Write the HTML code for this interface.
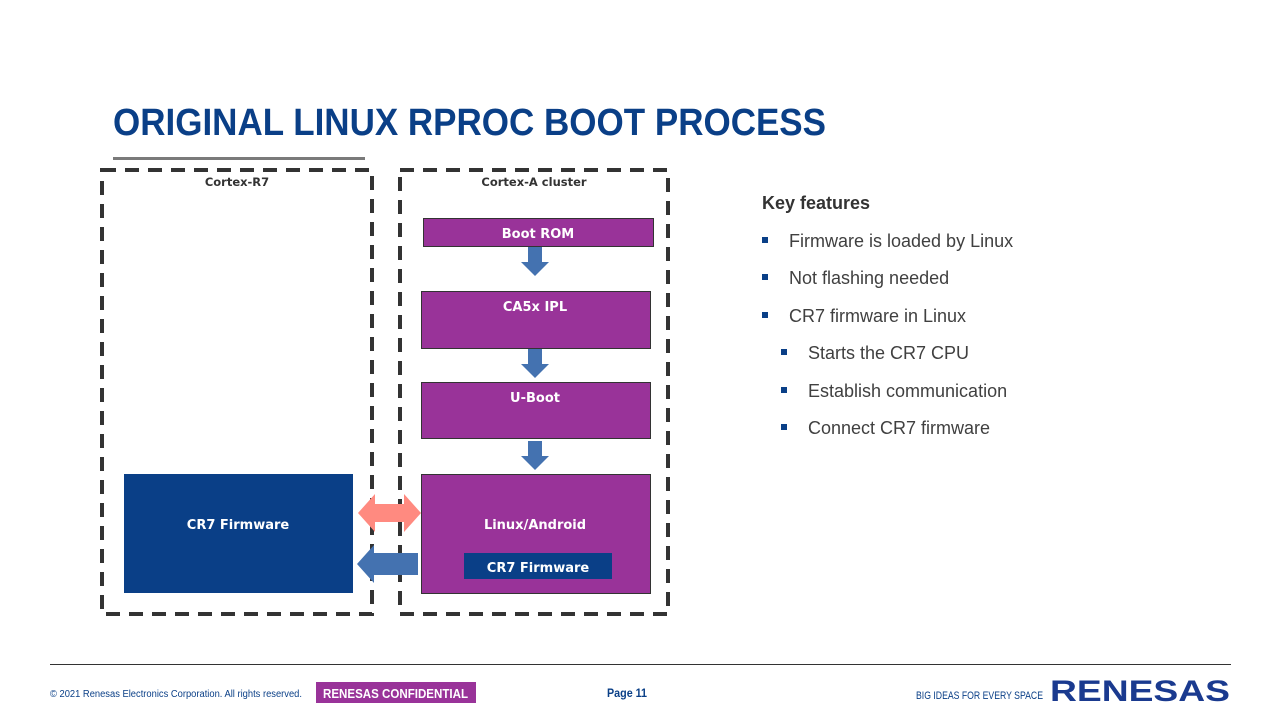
<!DOCTYPE html>
<html><head><meta charset="utf-8"><style>
html,body{margin:0;padding:0;background:#fff;}
svg{display:block;}
text{font-family:"Liberation Sans",sans-serif;}
.dv{font-family:"DejaVu Sans",sans-serif;font-weight:bold;fill:#fff;}
</style></head><body>
<svg width="1280" height="720" viewBox="0 0 1280 720" xmlns="http://www.w3.org/2000/svg">
<rect width="1280" height="720" fill="#fff"/>
<text x="113" y="135" font-size="38" font-weight="bold" fill="#0a3f87" textLength="713" lengthAdjust="spacingAndGlyphs">ORIGINAL LINUX RPROC BOOT PROCESS</text>
<rect x="113" y="157" width="252" height="3" fill="#7a7a7a"/>

<rect x="102" y="170" width="270" height="444" fill="none" stroke="#333" stroke-width="4" stroke-dasharray="14 9"/>
<rect x="400" y="170" width="268" height="444" fill="none" stroke="#333" stroke-width="4" stroke-dasharray="14 9"/>
<text x="237" y="186" font-size="11.5" class="dv" style="fill:#333" text-anchor="middle">Cortex-R7</text>
<text x="534" y="186" font-size="11.5" class="dv" style="fill:#333" text-anchor="middle">Cortex-A cluster</text>

<rect x="423.5" y="218.5" width="230" height="28" fill="#993399" stroke="#333" stroke-width="1"/>
<text x="538" y="238" font-size="13" class="dv" text-anchor="middle">Boot ROM</text>
<rect x="421.5" y="291.5" width="229" height="57" fill="#993399" stroke="#333" stroke-width="1"/>
<text x="535" y="311" font-size="13" class="dv" text-anchor="middle">CA5x IPL</text>
<rect x="421.5" y="382.5" width="229" height="56" fill="#993399" stroke="#333" stroke-width="1"/>
<text x="535" y="402" font-size="13" class="dv" text-anchor="middle">U-Boot</text>
<rect x="421.5" y="474.5" width="229" height="119" fill="#993399" stroke="#333" stroke-width="1"/>
<text x="535" y="529" font-size="13" class="dv" text-anchor="middle">Linux/Android</text>
<rect x="464" y="553" width="148" height="26" fill="#0a3f87"/>
<text x="538" y="572" font-size="13" class="dv" text-anchor="middle">CR7 Firmware</text>

<rect x="124" y="474" width="229" height="119" fill="#0a3f87"/>
<text x="238" y="529" font-size="13" class="dv" text-anchor="middle">CR7 Firmware</text>

<g fill="#4472b0">
<polygon points="528,247 542,247 542,262 549,262 535,276 521,262 528,262"/>
<polygon points="528,349 542,349 542,364 549,364 535,378 521,364 528,364"/>
<polygon points="528,441 542,441 542,456 549,456 535,470 521,456 528,456"/>
<polygon points="418,553 374,553 374,545 357,564 374,583 374,575 418,575"/>
</g>
<polygon fill="#ff8a80" points="358,513 375,494 375,504 404,504 404,494 421,513 404,532 404,522 375,522 375,532"/>

<text x="762" y="209" font-size="18" font-weight="bold" fill="#333">Key features</text>
<g fill="#0a3f87">
<rect x="762" y="237" width="6" height="6"/>
<rect x="762" y="274" width="6" height="6"/>
<rect x="762" y="312" width="6" height="6"/>
<rect x="781" y="349" width="6" height="6"/>
<rect x="781" y="387" width="6" height="6"/>
<rect x="781" y="424" width="6" height="6"/>
</g>
<g font-size="18" fill="#404040">
<text x="789" y="247">Firmware is loaded by Linux</text>
<text x="789" y="284">Not flashing needed</text>
<text x="789" y="322">CR7 firmware in Linux</text>
<text x="808" y="359">Starts the CR7 CPU</text>
<text x="808" y="397">Establish communication</text>
<text x="808" y="434">Connect CR7 firmware</text>
</g>

<rect x="50" y="664" width="1181" height="1" fill="#333"/>
<text x="50" y="697" font-size="10" fill="#0a3f87" textLength="252" lengthAdjust="spacingAndGlyphs">© 2021 Renesas Electronics Corporation. All rights reserved.</text>
<rect x="316" y="682" width="160" height="21" fill="#993399"/>
<text x="323" y="698" font-size="13" font-weight="bold" fill="#fff" textLength="145" lengthAdjust="spacingAndGlyphs">RENESAS CONFIDENTIAL</text>
<text x="607" y="697" font-size="12" font-weight="bold" fill="#0a3f87" textLength="40" lengthAdjust="spacingAndGlyphs">Page 11</text>
<text x="916" y="699" font-size="11" fill="#0a3f87" textLength="127" lengthAdjust="spacingAndGlyphs">BIG IDEAS FOR EVERY SPACE</text>
<text x="1050" y="701" font-size="30" font-weight="bold" fill="#1a3a8f" textLength="180" lengthAdjust="spacingAndGlyphs">RENESAS</text>
</svg>
</body></html>
